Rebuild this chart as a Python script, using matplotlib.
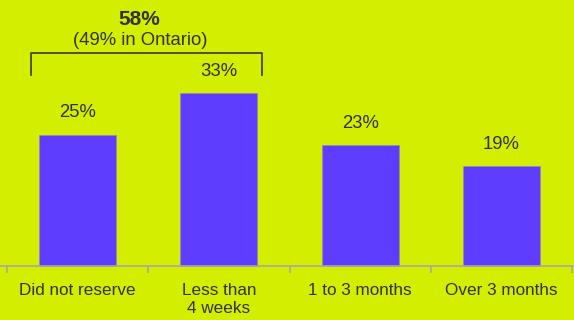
import matplotlib
matplotlib.use('Agg')
import matplotlib.pyplot as plt
import numpy as np

categories = ['Did not reserve', 'Less than\n4 weeks', '1 to 3 months', 'Over 3 months']
values = [25, 33, 23, 19]
value_labels = ['25%', '33%', '23%', '19%']
bracket_title = '58%'
bracket_subtitle = '(49% in Ontario)'

BG = '#d4ee00'
BAR = '#5f3dff'
TXT = '#333333'
AXIS = '#a8a8a8'

plt.rcParams['font.family'] = ['Liberation Sans', 'DejaVu Sans']

fig = plt.figure(figsize=(5.74, 3.2), dpi=100, facecolor=BG)
ax = fig.add_axes([0, 0, 1, 1])
ax.set_facecolor(BG)

x = np.arange(len(categories))
ax.bar(x, values, width=0.545, color=BAR, edgecolor='#8f86c8', linewidth=0.5, zorder=2)

for xi, v, lab in zip(x, values, value_labels):
    ax.text(xi, v + 4.2, lab, ha='center', va='center', fontsize=13.3, color=TXT)

# bracket over the first two bars
bx0, bx1, by_top, by_bot = -0.33, 1.305, 40.6, 36.4
ax.plot([bx0, bx0, bx1, bx1], [by_bot, by_top, by_top, by_bot],
        color='#444444', linewidth=1.3, solid_joinstyle='round', zorder=3)
ax.text(0.44, 47.0, bracket_title, ha='center', va='center',
        fontsize=15, fontweight='bold', color=TXT)
ax.text(0.44, 43.1, bracket_subtitle, ha='center', va='center',
        fontsize=13.3, color=TXT)

ax.set_xlim(-0.5 - 7 / 141.25, 3.5 + 2 / 141.25)
ax.set_ylim(-54 / 5.24, 266 / 5.24)

for s in ['top', 'right', 'left']:
    ax.spines[s].set_visible(False)
ax.spines['bottom'].set_position(('data', 0))
ax.spines['bottom'].set_color(AXIS)
ax.spines['bottom'].set_linewidth(1.2)
ax.set_yticks([])

ax.set_xticks(x)
ax.set_xticklabels(categories, fontsize=12.3, color=TXT, linespacing=1.3, va='top')
ax.tick_params(axis='x', which='major', length=0, pad=12)
ax.set_xticks(np.arange(-0.5, len(categories)), minor=True)
ax.tick_params(axis='x', which='minor', length=5, width=1.2, color=AXIS, direction='out')

fig.savefig('out.png', dpi=100, facecolor=BG)
